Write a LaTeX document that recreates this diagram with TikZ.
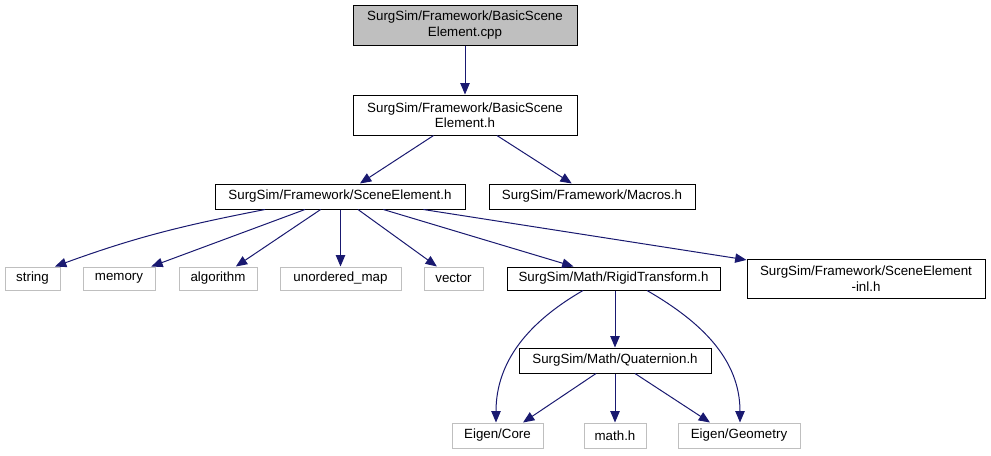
\documentclass[tikz,border=0pt]{standalone}
\usepackage{fontspec}
\setmainfont{Liberation Sans}
\usetikzlibrary{arrows.meta}
\definecolor{edgeblue}{HTML}{191970}
\definecolor{boxgray}{HTML}{BFBFBF}
\begin{document}
\begin{tikzpicture}[x=0.75pt,y=-0.75pt,
  every node/.style={font=\fontsize{10}{11.5}\selectfont, inner sep=0pt, align=center},
  sz/.style 2 args={minimum width=#1*0.75pt, minimum height=#2*0.75pt},
  filebox/.style={draw=black, line width=0.75pt, fill=white},
  sysbox/.style={draw=boxgray, line width=0.75pt, fill=white},
  curbox/.style={draw=black, line width=0.75pt, fill=boxgray},
  dep/.style={draw=edgeblue, line width=0.75pt, -{Triangle[length=8.5pt,width=7pt]}}
]
\useasboundingbox (0,0) rectangle (991,455);

\node[curbox, sz={224}{40}] (cpp) at (465,25) {SurgSim/Framework/BasicScene\\Element.cpp};
\node[filebox, sz={224}{40}] (bh) at (465,115) {SurgSim/Framework/BasicScene\\Element.h};
\node[filebox, sz={250}{25}] (se) at (340,196.5) {SurgSim/Framework/SceneElement.h};
\node[filebox, sz={206}{25}] (mac) at (592,196.5) {SurgSim/Framework/Macros.h};

\node[sysbox, sz={55}{23}] (str) at (32.5,278.5) {string};
\node[sysbox, sz={72}{23}] (mem) at (119,278.5) {memory};
\node[sysbox, sz={78}{23}] (alg) at (218,278.5) {algorithm};
\node[sysbox, sz={121}{23}] (um) at (340.5,278.5) {unordered\_map};
\node[sysbox, sz={59}{23}] (vec) at (453.5,278.5) {vector};
\node[filebox, sz={213}{23}] (rt) at (613.5,278.5) {SurgSim/Math/RigidTransform.h};
\node[filebox, sz={238}{39}] (inl) at (866,278.5) {SurgSim/Framework/SceneElement\\-inl.h};

\node[filebox, sz={192}{25}] (q) at (615,360.5) {SurgSim/Math/Quaternion.h};

\node[sysbox, sz={91}{25}] (ec) at (497.5,435.5) {Eigen/Core};
\node[sysbox, sz={62}{25}] (mh) at (615,435.5) {math.h};
\node[sysbox, sz={122}{25}] (eg) at (739,435.5) {Eigen/Geometry};

\draw[dep] (cpp) -- (bh);
\draw[dep] (bh) -- (se);
\draw[dep] (bh) -- (mac);

\draw[dep] ([xshift=-75*0.75pt]se.south) to[out=191,in=20] ([xshift=22.5*0.75pt]str.north);
\draw[dep] (se) -- (mem);
\draw[dep] (se) -- (alg);
\draw[dep] (um.north |- se.south) -- (um.north);
\draw[dep] (se) -- (vec);
\draw[dep] (se) -- (rt);
\draw[dep] (se) -- (inl);

\draw[dep] ([xshift=-30.5*0.75pt]rt.south) to[out=210,in=90] ([xshift=-1.5*0.75pt]ec.north);
\draw[dep] (q.north |- rt.south) -- (q.north);
\draw[dep] ([xshift=33.5*0.75pt]rt.south) to[out=-30,in=90] ([xshift=1*0.75pt]eg.north);

\draw[dep] ([xshift=-19*0.75pt]q.south) -- ([xshift=25.5*0.75pt]ec.north);
\draw[dep] (q.south) -- (mh.north);
\draw[dep] ([xshift=20*0.75pt]q.south) -- ([xshift=-29*0.75pt]eg.north);
\end{tikzpicture}
\end{document}
